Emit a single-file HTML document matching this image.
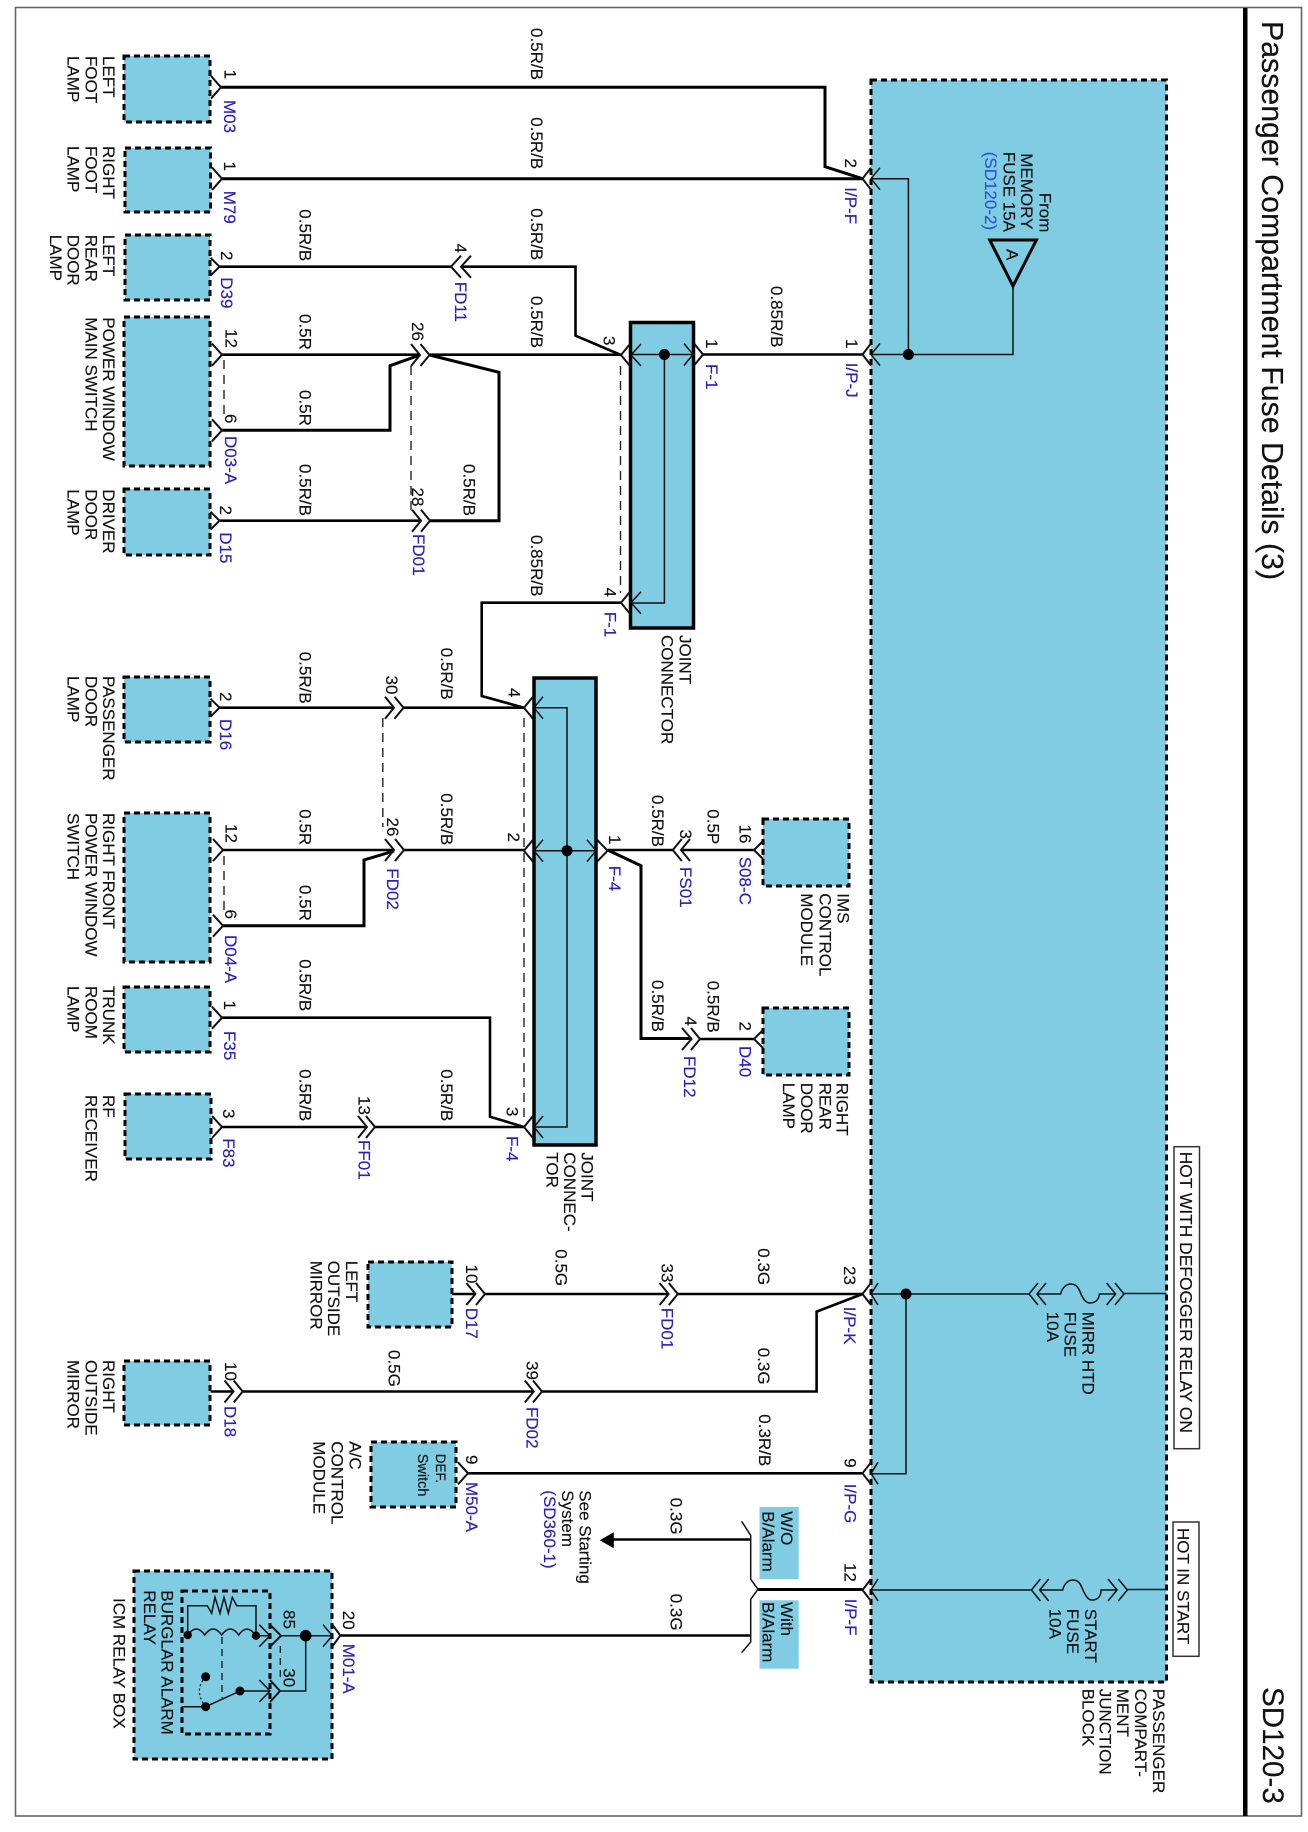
<!DOCTYPE html>
<html><head><meta charset="utf-8"><title>Passenger Compartment Fuse Details (3)</title>
<style>
html,body{margin:0;padding:0;background:#fff}
svg{display:block;filter:blur(.35px)}
text{font-family:"Liberation Sans",sans-serif;font-size:17px;fill:#111;stroke:#111;stroke-width:.15}
.b{fill:#2a20b8;stroke:#2a20b8}
.c{fill:#2b55d8;stroke:#2b55d8}
.box{fill:#7fcce3;stroke:#000;stroke-width:3;stroke-dasharray:6 4}
.j{fill:#7fcce3;stroke:#000;stroke-width:3.5}
.w{fill:none;stroke:#000;stroke-width:3}
.m{fill:none;stroke:#000;stroke-width:2.6}
.t{fill:none;stroke:#111;stroke-width:1.5}
.d{fill:none;stroke:#222;stroke-width:1.4;stroke-dasharray:9 6}
.h{fill:none;stroke:#111;stroke-width:2}
</style></head><body>
<svg xmlns="http://www.w3.org/2000/svg" width="1308" height="1832" viewBox="0 0 1308 1832">
<rect width="1308" height="1832" fill="#fff"/>
<rect x="15.5" y="7.5" width="1286" height="1808.5" fill="none" stroke="#666" stroke-width="1.6"/>
<rect x="1243" y="8" width="4.5" height="1808" fill="#000"/>
<text transform="matrix(0 1 -1 0 1262 21)" style="font-size:30.3px">Passenger Compartment Fuse Details (3)</text>
<text transform="matrix(0 1 -1 0 1263 1687)" style="font-size:29.6px">SD120-3</text>

<!-- blocks -->
<rect class="box" x="871" y="80" width="295.5" height="1602"/>
<rect class="box" x="124" y="56" width="86" height="66"/>
<rect class="box" x="125" y="148" width="85.5" height="64"/>
<rect class="box" x="125" y="235" width="85" height="65"/>
<rect class="box" x="124" y="317" width="86" height="149"/>
<rect class="box" x="124" y="489" width="86" height="66"/>
<rect class="box" x="124" y="677" width="86" height="65"/>
<rect class="box" x="124" y="813" width="86" height="149"/>
<rect class="box" x="124" y="987" width="86" height="65"/>
<rect class="box" x="125" y="1094" width="86" height="65"/>
<rect class="box" x="368" y="1262" width="84" height="65"/>
<rect class="box" x="124" y="1361" width="86" height="64"/>
<rect class="box" x="371" y="1442" width="85" height="65"/>
<rect class="box" x="134" y="1571" width="198" height="188"/>
<rect class="box" x="182" y="1591" width="88" height="143"/>
<rect class="box" x="763" y="819" width="86" height="67"/>
<rect class="box" x="763" y="1008" width="86" height="67"/>
<rect class="j" x="630.5" y="322.5" width="63" height="305.5"/>
<rect class="j" x="534" y="678" width="62" height="467"/>
<rect x="759.5" y="1507" width="39.2" height="72.3" fill="#7fcce3"/>
<rect x="759.5" y="1600.3" width="39.2" height="68.4" fill="#7fcce3"/>
<rect x="1174" y="1146.7" width="25.5" height="302" fill="#fff" stroke="#333" stroke-width="1.5"/>
<rect x="1173" y="1522" width="26" height="134.3" fill="#fff" stroke="#333" stroke-width="1.5"/>

<!-- thick wires -->
<path class="w" d="M221 87.3H825V166.7L862.5 178.7"/>
<path class="w" d="M222 178.7H862.5"/>
<path class="m" d="M219.5 266.7H451M461 266.7H575.5V335.7L621 355"/>
<path class="m" d="M222 354.7H420M429.5 354.7H621"/>
<path class="w" d="M222 430.3H390V365.7L420 355"/>
<path class="w" d="M429.5 355L499 372.3V520.7H430"/>
<path class="m" d="M219.5 520.7H421"/>
<path class="m" d="M703 354.5H862.5"/>
<path class="m" d="M621 602.7H481.7V696L524 707.7"/>
<path class="m" d="M219.5 707.7H394M403.5 707.7H524"/>
<path class="m" d="M223 850H394M404 850H524"/>
<path class="w" d="M223 925.7H364V860L394 851"/>
<path class="m" d="M607.6 850H672.8M681 850H754"/>
<path class="w" d="M607.6 850L641 865.7V1038.5H691.5"/>
<path class="m" d="M700 1039H754"/>
<path class="m" d="M222 1017.7H490V1116.7L524 1127"/>
<path class="m" d="M222 1127H367M375 1127H524"/>
<path class="m" d="M452 1294H475M485 1294H668.6M677.8 1294H862.5"/>
<path class="m" d="M210.6 1391.5H233.5M242.7 1391.5H533.8M542 1391.5H816.6V1311.7L862.5 1294"/>
<path class="m" d="M468 1473.3H862.5"/>
<path class="m" d="M613 1539.5H750.7"/>
<path class="m" d="M340 1635.5H750.7"/>
<path class="w" d="M758 1589.5H862.5"/>
<path class="t" d="M741.6 1521.3L750.7 1535.3V1579.3L758 1589.3L750.7 1599.3V1642L741.6 1652.7"/>
<path fill="#000" d="M599.7 1540.3L613.8 1532.3V1548.3Z"/>

<!-- dashed -->
<path class="d" d="M224 360V416"/>
<path class="d" d="M411 366V510"/>
<path class="d" d="M620.5 366V593"/>
<path class="d" d="M382.8 718V827"/>
<path class="d" d="M524 718V1117"/>
<path class="d" d="M224 856V912"/>

<!-- inner thin wiring -->
<path class="t" d="M872 178.7H908.4V354.5M872 354.5H1013V286"/>
<path class="t" d="M631 354.5H693M664.4 354.5V603H631"/>
<path class="t" d="M534 707.7H567V1127H534M534 850.7H596"/>
<path class="t" d="M871 1294H1029M1037 1294H1060.6C1062 1288 1066 1284 1071 1284C1077 1284 1079 1289 1081.4 1295C1084 1300 1086 1303 1090 1303C1096 1303 1099 1299 1099.4 1294H1115.6M1124 1293.5H1166.5"/>
<path class="t" d="M906 1294V1473.7H871"/>
<path class="t" d="M871 1590H1031.4M1039.7 1590H1062.7C1064 1584 1068 1580 1073 1580C1079 1580 1081 1585 1083.4 1591C1086 1596 1088 1600 1092 1600C1098 1600 1101 1596 1101 1590H1117M1127.3 1589.5H1166.5"/>
<circle cx="908.4" cy="354.5" r="5.5"/><circle cx="664.4" cy="354.5" r="5.5"/><circle cx="567" cy="850.7" r="5.5"/><circle cx="906" cy="1294" r="5.5"/>
<path fill="none" stroke="#000" stroke-width="3" d="M989.7 240H1036.4L1013 286Z"/>

<!-- chevrons -->
<path class="h" d="M211 76l10 11.3l-10 11.3M212 167.4l10 11.3l-10 11.3M210.5 257.7l9 9l-9 9M212 343.7l10 11l-10 11M212 419.3l10 11l-10 11M210.5 511.7l9 9l-9 9M210.5 698.7l9 9l-9 9M213 839l10 11l-10 11M213 914.7l10 11l-10 11M212 1006.7l10 11l-10 11M212 1116l10 11l-10 11M458 1462.3l10 11l-10 11"/>
<path class="h" d="M763 841l-9 9l9 9M763 1030l-9 9l9 9"/>
<path class="h" d="M461 255.7l-10 11l10 11M471 255.7l-10 11l10 11M411 344l9 11l-9 11M420.5 344l9 11l-9 11M412 509.7l9 11l-9 11M421 509.7l9 11l-9 11M385 696.7l9 11l-9 11M394.5 696.7l9 11l-9 11M385 839l9 11l-9 11M395 839l9 11l-9 11M358 1116l9 11l-9 11M366 1116l9 11l-9 11M682 1028l9.5 11l-9.5 11M691 1028l9 11l-9 11M681.8 839l-9 11l9 11M690 839l-9 11l9 11M466.4 1283l9 11l-9 11M476 1283l9 11l-9 11M659.6 1283l9 11l-9 11M668.8 1283l9 11l-9 11M224.5 1380.5l9 11l-9 11M233.7 1380.5l9 11l-9 11M524.8 1380.5l9 11l-9 11M533 1380.5l9 11l-9 11"/>
<path class="h" d="M630 344l-9 11l9 11M630 591.7l-9 11l9 11M694 343.5l9 11l-9 11M533 696.7l-9 11l9 11M533 839.7l-9 11l9 11M533 1116l-9 11l9 11M597 839.7l10.6 11l-10.6 11M871 167.7l-8.5 11l8.5 11M871 343.5l-8.5 11l8.5 11M871 1283l-8.5 11l8.5 11M871 1462.3l-8.5 11l8.5 11M871 1579l-8.5 11l8.5 11"/>
<path class="t" d="M641 344l-10 11l10 11M641 591.7l-10 11l10 11M684 343.5l9 11l-9 11M543 696.7l-9 11l9 11M543 839.7l-9 11l9 11M543 1116l-9 11l9 11M587 839.7l9 11l-9 11M880 167.7l-9 11l9 11M880 343.5l-9 11l9 11M878 1283l-7 11l7 11M878 1462.3l-7 11l7 11M878 1579l-7 11l7 11"/>
<path class="t" d="M1038 1283l-9 11l9 11M1046 1283l-9 11l9 11M1106.6 1283l9 11l-9 11M1115 1283l9 11l-9 11M1040.4 1579l-9 11l9 11M1048.7 1579l-9 11l9 11M1108 1579l9 11l-9 11M1118.3 1579l9 11l-9 11"/>

<!-- relay -->
<path class="t" d="M187.7 1635V1605.7H207.3L211.7 1613.3L215 1597.3L220 1613.3L224 1597.3L228.3 1613.3L232.3 1597.3L236.7 1605.7H256V1635.7"/>
<path class="t" d="M187.7 1635q8.5 -12 17 0q8.5 -12 17 0q8.5 -12 17 0q8.5 -12 17.3 0.7H270M281 1635.7H332.3"/>
<path class="t" d="M305.7 1635.7V1691H281M240 1691H270M181.7 1706.7H205.7L240 1691"/>
<path class="t" d="M259.3 1624.7l10.7 11l-10.7 11M323 1624.7l9.3 11l-9.3 11M259.3 1680l10.7 11l-10.7 11"/>
<path class="h" d="M270 1624.7l11 11l-11 11M270 1680l10 11l-10 11M332.3 1624.5l8 11l-8 11"/>
<path class="d" d="M222 1637V1698" style="stroke-dasharray:7 5"/>
<path class="d" d="M280.3 1646V1680" style="stroke-dasharray:7 5"/>
<path fill="none" stroke="#111" stroke-width="1.3" stroke-dasharray="2 2.5" d="M205.7 1676.7Q193 1691 205.7 1706.7"/>
<circle cx="187.7" cy="1635" r="4.2"/><circle cx="256" cy="1635.7" r="4.2"/><circle cx="305.7" cy="1635.7" r="5.8"/><circle cx="205.7" cy="1676.7" r="4.5"/><circle cx="240" cy="1691" r="4.5"/><circle cx="205.7" cy="1706.7" r="4.5"/>

<!-- component labels -->
<text transform="matrix(0 1 -1 0 103 56)">LEFT</text><text transform="matrix(0 1 -1 0 85.5 56)">FOOT</text><text transform="matrix(0 1 -1 0 67.6 56)">LAMP</text>
<text transform="matrix(0 1 -1 0 103 146)">RIGHT</text><text transform="matrix(0 1 -1 0 85.5 146)">FOOT</text><text transform="matrix(0 1 -1 0 67.6 146)">LAMP</text>
<text transform="matrix(0 1 -1 0 103 234.7)">LEFT</text><text transform="matrix(0 1 -1 0 85.5 234.7)">REAR</text><text transform="matrix(0 1 -1 0 67.6 234.7)">DOOR</text><text transform="matrix(0 1 -1 0 50 234.7)">LAMP</text>
<text transform="matrix(0 1 -1 0 103 317.3)">POWER WINDOW</text><text transform="matrix(0 1 -1 0 85.5 317.3)">MAIN SWITCH</text>
<text transform="matrix(0 1 -1 0 103 489.3)">DRIVER</text><text transform="matrix(0 1 -1 0 85.5 489.3)">DOOR</text><text transform="matrix(0 1 -1 0 67.6 489.3)">LAMP</text>
<text transform="matrix(0 1 -1 0 103 676)">PASSENGER</text><text transform="matrix(0 1 -1 0 85.5 676)">DOOR</text><text transform="matrix(0 1 -1 0 67.6 676)">LAMP</text>
<text transform="matrix(0 1 -1 0 103 813)">RIGHT FRONT</text><text transform="matrix(0 1 -1 0 85.5 813)">POWER WINDOW</text><text transform="matrix(0 1 -1 0 67.6 813)">SWITCH</text>
<text transform="matrix(0 1 -1 0 103 986)">TRUNK</text><text transform="matrix(0 1 -1 0 85.5 986)">ROOM</text><text transform="matrix(0 1 -1 0 67.6 986)">LAMP</text>
<text transform="matrix(0 1 -1 0 103 1095)">RF</text><text transform="matrix(0 1 -1 0 85.5 1095)">RECEIVER</text>
<text transform="matrix(0 1 -1 0 346 1260.7)">LEFT</text><text transform="matrix(0 1 -1 0 328 1260.7)">OUTSIDE</text><text transform="matrix(0 1 -1 0 310.7 1260.7)">MIRROR</text>
<text transform="matrix(0 1 -1 0 103 1360)">RIGHT</text><text transform="matrix(0 1 -1 0 85.5 1360)">OUTSIDE</text><text transform="matrix(0 1 -1 0 67.6 1360)">MIRROR</text>
<text transform="matrix(0 1 -1 0 349.5 1441.3)">A/C</text><text transform="matrix(0 1 -1 0 331.5 1441.3)">CONTROL</text><text transform="matrix(0 1 -1 0 313.6 1441.3)">MODULE</text>
<text transform="matrix(0 1 -1 0 435.8 1453.7)" style="font-size:13.5px">DEF.</text><text transform="matrix(0 1 -1 0 418 1453.7)" style="font-size:14.5px">Switch</text>
<text transform="matrix(0 1 -1 0 161.4 1590.3)">BURGLAR ALARM</text><text transform="matrix(0 1 -1 0 143.9 1590.3)">RELAY</text>
<text transform="matrix(0 1 -1 0 113.4 1598)">ICM RELAY BOX</text>
<text transform="matrix(0 1 -1 0 679.5 635)">JOINT</text><text transform="matrix(0 1 -1 0 661.5 635)">CONNECTOR</text>
<text transform="matrix(0 1 -1 0 581.7 1152.3)">JOINT</text><text transform="matrix(0 1 -1 0 563.8 1152.3)">CONNEC-</text><text transform="matrix(0 1 -1 0 546.3 1152.3)">TOR</text>
<text transform="matrix(0 1 -1 0 837.5 893.3)">IMS</text><text transform="matrix(0 1 -1 0 819.5 893.3)">CONTROL</text><text transform="matrix(0 1 -1 0 801 893.3)">MODULE</text>
<text transform="matrix(0 1 -1 0 836.6 1082.7)">RIGHT</text><text transform="matrix(0 1 -1 0 819.5 1082.7)">REAR</text><text transform="matrix(0 1 -1 0 801 1082.7)">DOOR</text><text transform="matrix(0 1 -1 0 783 1082.7)">LAMP</text>
<text transform="matrix(0 1 -1 0 1153 1688.7)">PASSENGER</text><text transform="matrix(0 1 -1 0 1134.8 1688.7)">COMPART-</text><text transform="matrix(0 1 -1 0 1117 1688.7)">MENT</text><text transform="matrix(0 1 -1 0 1099.4 1688.7)">JUNCTION</text><text transform="matrix(0 1 -1 0 1082.3 1688.7)">BLOCK</text>
<text transform="matrix(0 1 -1 0 1082.7 1311.7)">MIRR HTD</text><text transform="matrix(0 1 -1 0 1064.7 1311.7)">FUSE</text><text transform="matrix(0 1 -1 0 1047 1311.7)">10A</text>
<text transform="matrix(0 1 -1 0 1084.8 1608.7)">START</text><text transform="matrix(0 1 -1 0 1066.8 1608.7)">FUSE</text><text transform="matrix(0 1 -1 0 1049.3 1608.7)">10A</text>
<text transform="matrix(0 1 -1 0 1039.5 192.7)">From</text><text transform="matrix(0 1 -1 0 1021 153.3)">MEMORY</text><text transform="matrix(0 1 -1 0 1003.5 151.7)">FUSE 15A</text><text class="c" transform="matrix(0 1 -1 0 985 151.7)">(SD120-2)</text>
<text transform="matrix(0 1 -1 0 1006.5 249)">A</text>
<text transform="matrix(0 1 -1 0 1180 1151.7)" style="font-size:17.4px">HOT WITH DEFOGGER RELAY ON</text>
<text transform="matrix(0 1 -1 0 1177.5 1528)">HOT IN START</text>
<text transform="matrix(0 1 -1 0 781 1511.3)">W/O</text><text transform="matrix(0 1 -1 0 762.4 1511.3)">B/Alarm</text>
<text transform="matrix(0 1 -1 0 781 1602)">With</text><text transform="matrix(0 1 -1 0 762.4 1602)">B/Alarm</text>
<text transform="matrix(0 1 -1 0 579.7 1490.3)">See Starting</text><text transform="matrix(0 1 -1 0 562 1490.3)">System</text><text class="b" transform="matrix(0 1 -1 0 544 1490.3)">(SD360-1)</text>

<!-- wire sizes -->
<text transform="matrix(0 1 -1 0 531 28)">0.5R/B</text><text transform="matrix(0 1 -1 0 531 117.3)">0.5R/B</text><text transform="matrix(0 1 -1 0 531 208.3)">0.5R/B</text><text transform="matrix(0 1 -1 0 531 296)">0.5R/B</text>
<text transform="matrix(0 1 -1 0 299.5 209.3)">0.5R/B</text><text transform="matrix(0 1 -1 0 299.5 314)">0.5R</text><text transform="matrix(0 1 -1 0 299.5 390)">0.5R</text><text transform="matrix(0 1 -1 0 299.5 464)">0.5R/B</text><text transform="matrix(0 1 -1 0 463.7 464)">0.5R/B</text>
<text transform="matrix(0 1 -1 0 770.8 286)">0.85R/B</text><text transform="matrix(0 1 -1 0 531 535)">0.85R/B</text>
<text transform="matrix(0 1 -1 0 299.5 651.7)">0.5R/B</text><text transform="matrix(0 1 -1 0 441 647.7)">0.5R/B</text><text transform="matrix(0 1 -1 0 441 793.3)">0.5R/B</text>
<text transform="matrix(0 1 -1 0 299.5 809.3)">0.5R</text><text transform="matrix(0 1 -1 0 299.5 885)">0.5R</text>
<text transform="matrix(0 1 -1 0 652 795)">0.5R/B</text><text transform="matrix(0 1 -1 0 707.4 809.3)">0.5P</text>
<text transform="matrix(0 1 -1 0 652 980)">0.5R/B</text><text transform="matrix(0 1 -1 0 707.4 980.7)">0.5R/B</text>
<text transform="matrix(0 1 -1 0 299.5 959.3)">0.5R/B</text><text transform="matrix(0 1 -1 0 299.5 1069.3)">0.5R/B</text><text transform="matrix(0 1 -1 0 441 1069.3)">0.5R/B</text>
<text transform="matrix(0 1 -1 0 555.5 1249.3)">0.5G</text><text transform="matrix(0 1 -1 0 758 1248.3)">0.3G</text><text transform="matrix(0 1 -1 0 388.7 1350)">0.5G</text><text transform="matrix(0 1 -1 0 758 1347.7)">0.3G</text>
<text transform="matrix(0 1 -1 0 759 1414.3)">0.3R/B</text><text transform="matrix(0 1 -1 0 670.7 1497.7)">0.3G</text><text transform="matrix(0 1 -1 0 670.7 1593.7)">0.3G</text>

<!-- pins -->
<text transform="matrix(0 1 -1 0 224.5 69.5)">1</text><text transform="matrix(0 1 -1 0 224 161.5)">1</text><text transform="matrix(0 1 -1 0 221 251)">2</text><text transform="matrix(0 1 -1 0 225.5 329)">12</text><text transform="matrix(0 1 -1 0 225 414)">6</text>
<text transform="matrix(0 1 -1 0 220 505.5)">2</text><text transform="matrix(0 1 -1 0 220 692)">2</text><text transform="matrix(0 1 -1 0 225.5 824)">12</text><text transform="matrix(0 1 -1 0 225 909.5)">6</text><text transform="matrix(0 1 -1 0 224 1000.5)">1</text><text transform="matrix(0 1 -1 0 223 1109)">3</text>
<text transform="matrix(0 1 -1 0 455 243.5)">4</text><text transform="matrix(0 1 -1 0 412 322)">26</text><text transform="matrix(0 1 -1 0 412 487.5)">28</text><text transform="matrix(0 1 -1 0 386 675.5)">30</text><text transform="matrix(0 1 -1 0 387 817.5)">26</text><text transform="matrix(0 1 -1 0 358.6 1096)">13</text>
<text transform="matrix(0 1 -1 0 603.5 336)">3</text><text transform="matrix(0 1 -1 0 604.6 587.5)">4</text><text transform="matrix(0 1 -1 0 508.7 688)">4</text><text transform="matrix(0 1 -1 0 508 832.5)">2</text><text transform="matrix(0 1 -1 0 506.7 1107)">3</text><text transform="matrix(0 1 -1 0 608.8 835)">1</text>
<text transform="matrix(0 1 -1 0 706 339)">1</text><text transform="matrix(0 1 -1 0 846 339)">1</text><text transform="matrix(0 1 -1 0 845 158.5)">2</text>
<text transform="matrix(0 1 -1 0 739.5 824.5)">16</text><text transform="matrix(0 1 -1 0 680 829.5)">3</text><text transform="matrix(0 1 -1 0 739.5 1021.5)">2</text><text transform="matrix(0 1 -1 0 685 1016.5)">4</text>
<text transform="matrix(0 1 -1 0 844 1266)">23</text><text transform="matrix(0 1 -1 0 661.5 1263.5)">33</text><text transform="matrix(0 1 -1 0 466 1264.5)">10</text><text transform="matrix(0 1 -1 0 225 1362)">10</text><text transform="matrix(0 1 -1 0 526.7 1361)">39</text>
<text transform="matrix(0 1 -1 0 466 1455)">9</text><text transform="matrix(0 1 -1 0 844.6 1458.3)">9</text><text transform="matrix(0 1 -1 0 844.6 1563)">12</text>
<text transform="matrix(0 1 -1 0 342.8 1610.8)">20</text><text transform="matrix(0 1 -1 0 283.6 1610)">85</text><text transform="matrix(0 1 -1 0 283.6 1668.3)">30</text>

<!-- connector refs -->
<text class="b" transform="matrix(0 1 -1 0 224 100)">M03</text><text class="b" transform="matrix(0 1 -1 0 224 190.7)">M79</text><text class="b" transform="matrix(0 1 -1 0 221 277.3)">D39</text><text class="b" transform="matrix(0 1 -1 0 225 436)">D03-A</text><text class="b" transform="matrix(0 1 -1 0 220 532.3)">D15</text><text class="b" transform="matrix(0 1 -1 0 220 719)">D16</text><text class="b" transform="matrix(0 1 -1 0 225 935)">D04-A</text><text class="b" transform="matrix(0 1 -1 0 224 1031)">F35</text><text class="b" transform="matrix(0 1 -1 0 223 1138.3)">F83</text><text class="b" transform="matrix(0 1 -1 0 224.5 1406)">D18</text>
<text class="b" transform="matrix(0 1 -1 0 455 281.7)">FD11</text><text class="b" transform="matrix(0 1 -1 0 413 534)">FD01</text><text class="b" transform="matrix(0 1 -1 0 387 868.3)">FD02</text><text class="b" transform="matrix(0 1 -1 0 358.6 1140)">FF01</text><text class="b" transform="matrix(0 1 -1 0 526.7 1407)">FD02</text><text class="b" transform="matrix(0 1 -1 0 466 1307.7)">D17</text><text class="b" transform="matrix(0 1 -1 0 466 1482)">M50-A</text><text class="b" transform="matrix(0 1 -1 0 342.8 1643.7)">M01-A</text>
<text class="b" transform="matrix(0 1 -1 0 845 187.3)">I/P-F</text><text class="b" transform="matrix(0 1 -1 0 846 362.7)">I/P-J</text><text class="b" transform="matrix(0 1 -1 0 706 364)">F-1</text><text class="b" transform="matrix(0 1 -1 0 604.6 611.7)">F-1</text><text class="b" transform="matrix(0 1 -1 0 609 865.7)">F-4</text><text class="b" transform="matrix(0 1 -1 0 506.7 1136)">F-4</text>
<text class="b" transform="matrix(0 1 -1 0 739.5 856.7)">S08-C</text><text class="b" transform="matrix(0 1 -1 0 680 867)">FS01</text><text class="b" transform="matrix(0 1 -1 0 739.5 1046)">D40</text><text class="b" transform="matrix(0 1 -1 0 684 1056)">FD12</text>
<text class="b" transform="matrix(0 1 -1 0 844 1306.7)">I/P-K</text><text class="b" transform="matrix(0 1 -1 0 661.5 1307.7)">FD01</text><text class="b" transform="matrix(0 1 -1 0 844.6 1483.7)">I/P-G</text><text class="b" transform="matrix(0 1 -1 0 845 1598.7)">I/P-F</text>
</svg>
</body></html>
